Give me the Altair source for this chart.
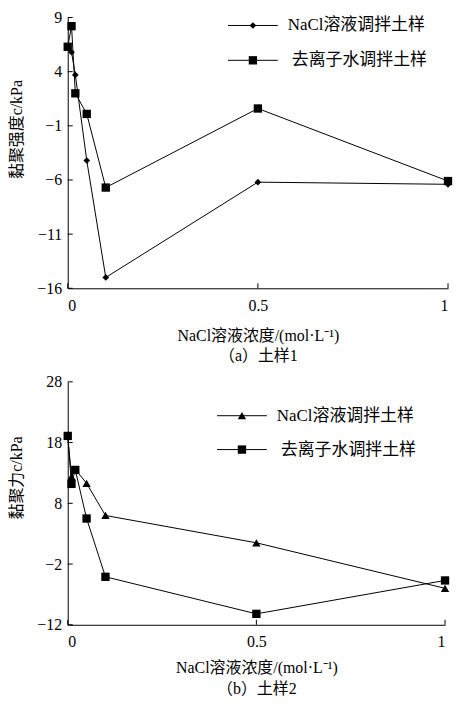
import altair as alt
import pandas as pd

# ---- data ----
conc = [0, 0.01, 0.02, 0.05, 0.1, 0.5, 1]
nacl_a = [6.3, 5.8, 3.7, -4.2, -15.0, -6.2, -6.4]
water_a = [6.3, 8.2, 2.0, 0.1, -6.7, 0.6, -6.1]
nacl_b = [19.1, 12.4, 13.6, 11.3, 6.0, 1.5, -6.0]
water_b = [19.1, 11.2, 13.5, 5.5, -4.1, -10.2, -4.7]

series_names = ["NaCl溶液调拌土样", "去离子水调拌土样"]
x_ticks = [0, 0.5, 1]
y_ticks_a = [9, 4, -1, -6, -11, -16]
y_ticks_b = [28, 18, 8, -2, -12]

x_title = "NaCl溶液浓度/(mol·L⁻¹)"
y_title_a = "黏聚强度c/kPa"
y_title_b = "黏聚力c/kPa"
sub_a = "（a）土样1"
sub_b = "（b）土样2"

FONT = "Liberation Serif, Times New Roman, Noto Sans CJK SC"


def panel(nacl, water, yticks, w, h, nacl_shape, nacl_size, ytitle, ytitle_y,
          sub, leg_x, leg_y, title_pad):
    df = pd.DataFrame({
        "x": conc + conc,
        "y": nacl + water,
        "s": [series_names[0]] * len(conc) + [series_names[1]] * len(conc),
    })
    ydom = [min(yticks), max(yticks)]
    xs = alt.Scale(domain=[0, 1], nice=False)
    ys = alt.Scale(domain=ydom, nice=False)
    xax = alt.Axis(values=x_ticks, format="~g", tickSize=0, labelPadding=9,
                   title=[x_title, sub], titlePadding=title_pad,
                   titleLineHeight=21, grid=False)
    yax = alt.Axis(values=yticks, tickSize=0, labelPadding=6, title=ytitle,
                   titlePadding=12, titleY=ytitle_y, grid=False)
    base = alt.Chart(df)
    lines = base.mark_line(color="black", strokeWidth=1).encode(
        x=alt.X("x:Q", scale=xs, axis=xax),
        y=alt.Y("y:Q", scale=ys, axis=yax),
        detail="s:N",
    )
    pts_n = base.transform_filter(alt.datum.s == series_names[0]).mark_point(
        shape=nacl_shape, filled=True, size=nacl_size, color="black", opacity=1
    ).encode(x=alt.X("x:Q", scale=xs), y=alt.Y("y:Q", scale=ys))
    pts_w = base.transform_filter(alt.datum.s == series_names[1]).mark_point(
        shape="square", filled=True, size=70, color="black", opacity=1
    ).encode(x=alt.X("x:Q", scale=xs), y=alt.Y("y:Q", scale=ys))

    # inward tick marks
    yt = alt.Chart(pd.DataFrame({"v": yticks})).mark_rule(color="black", strokeWidth=1).encode(
        y=alt.Y("v:Q", scale=ys), x=alt.value(0), x2=alt.value(5))
    xt = alt.Chart(pd.DataFrame({"v": x_ticks})).mark_rule(color="black", strokeWidth=1).encode(
        x=alt.X("v:Q", scale=xs), y=alt.value(h), y2=alt.value(h - 5))

    # legend
    layers = [lines, pts_n, pts_w, yt, xt]
    shapes = [(nacl_shape, nacl_size), ("square", 70)]
    for i, name in enumerate(series_names):
        ld = alt.Chart(pd.DataFrame({"label": [name]}))
        yy = leg_y[i]
        layers.append(ld.mark_rule(color="black", strokeWidth=1).encode(
            x=alt.value(leg_x), x2=alt.value(leg_x + 50), y=alt.value(yy)))
        layers.append(ld.mark_point(shape=shapes[i][0], filled=True, size=shapes[i][1],
                                    color="black", opacity=1).encode(
            x=alt.value(leg_x + 25), y=alt.value(yy)))
        layers.append(ld.mark_text(align="left", baseline="middle", fontSize=17,
                                   font=FONT, color="black").encode(
            x=alt.value(leg_x + 60 + (0 if i == 0 else 4)), y=alt.value(yy), text="label:N"))
    return alt.layer(*layers).properties(width=w, height=h)


pa = panel(nacl_a, water_a, y_ticks_a, 382, 272, "diamond", 45, y_title_a, 112,
           sub_a, 161, [8, 43], 14)
pb = panel(nacl_b, water_b, y_ticks_b, 379, 244, "triangle-up", 70, y_title_b, 96,
           sub_b, 150, [34, 68], 10)

chart = alt.vconcat(pa, pb, spacing=10).properties(
    padding={"left": 0, "top": 0, "right": 0, "bottom": 0}
).configure_view(stroke=None).configure_axis(
    domainColor="black", domainWidth=1,
    labelFont=FONT, labelFontSize=16, labelColor="black",
    titleFont=FONT, titleFontSize=16, titleFontWeight="normal", titleColor="black",
)

chart.save("out.html", embed_options={"renderer": "svg", "actions": False})
